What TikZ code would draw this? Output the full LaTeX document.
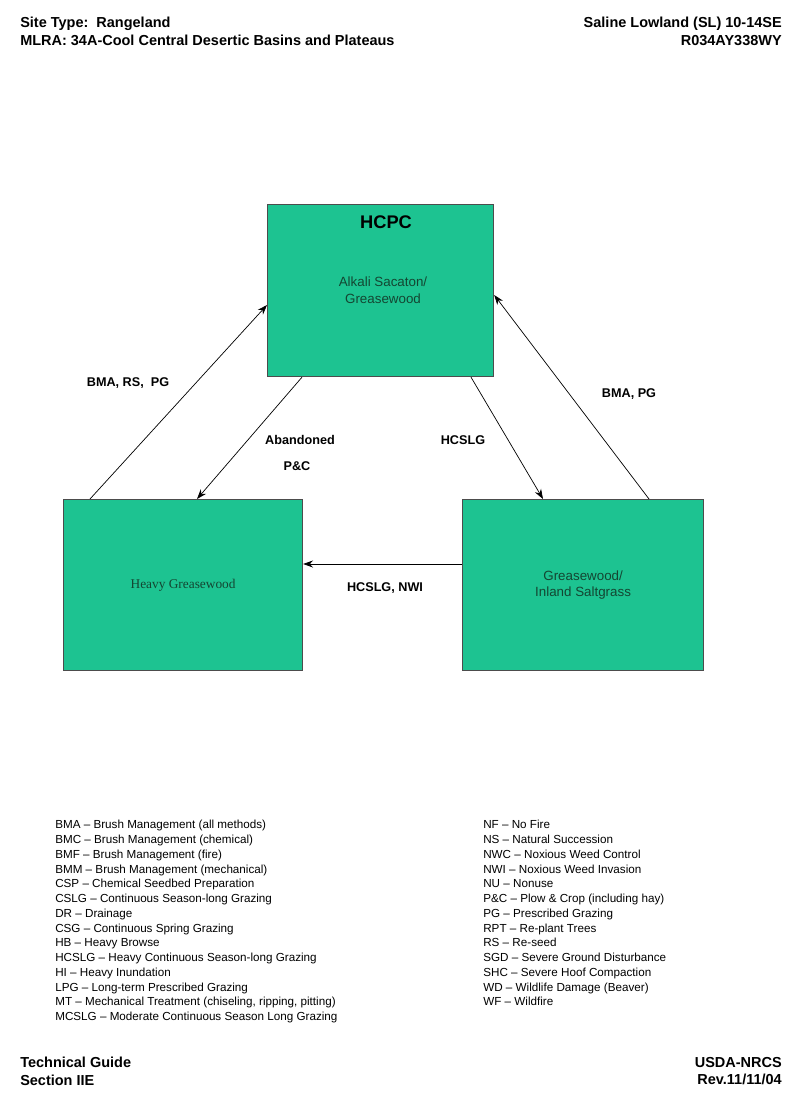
\documentclass[tikz,border=0pt]{standalone}
\usepackage{fontspec}
\setmainfont{Liberation Sans}
\newfontfamily\timesfont{Liberation Serif}
\usetikzlibrary{arrows.meta, positioning}
\definecolor{stategreen}{RGB}{29,195,145}
\definecolor{statetext}{RGB}{20,70,50}

\begin{document}
\begin{tikzpicture}[
    x=0.025cm, y=-0.025cm,
    state/.style={draw=black!70, fill=stategreen, line width=0.8pt, anchor=north west, inner sep=0pt},
    box text/.style={font=\fontsize{9.5}{12}\selectfont, text=statetext, align=center},
    trans/.style={-{Stealth[length=7pt,width=5pt]}, line width=0.5pt},
    tlabel/.style={font=\bfseries\fontsize{9}{11}\selectfont},
    header/.style={font=\bfseries\fontsize{10.3}{12.5}\selectfont},
    legend/.style={font=\fontsize{8.3}{10.5}\selectfont, anchor=north west, align=left, inner sep=0pt}
]
\useasboundingbox (0,0) rectangle (800,1108);

% header and footer
\node[header, anchor=north west, align=left, inner sep=0pt] (site) at (20,17) {Site Type:\ \ Rangeland\\MLRA: 34A-Cool Central Desertic Basins and Plateaus};
\node[header, anchor=north east, align=right, inner sep=0pt] (sl) at (782,17) {Saline Lowland (SL) 10-14SE\\R034AY338WY};
\node[header, anchor=north west, align=left, inner sep=0pt] (guide) at (20,1057) {Technical Guide\\Section IIE};
\node[header, anchor=north east, align=right, inner sep=0pt] (nrcs) at (782,1057) {USDA-NRCS\\Rev.11/11/04};

% states
\node[state, minimum width=5.65cm, minimum height=4.3cm] (hcpc) at (267,204) {};
\node[font=\bfseries\fontsize{13}{15}\selectfont] (hcpct) at (386,222) {HCPC};
\node[box text] (hcpcs) at (383,290) {Alkali Sacaton/\\Greasewood};
\node[state, minimum width=5.975cm, minimum height=4.275cm] (heavy) at (63,499) {};
\node[box text, font=\timesfont\fontsize{9.5}{12}\selectfont] at (heavy.center) {Heavy Greasewood};
\node[state, minimum width=6.025cm, minimum height=4.275cm] (salt) at (462,499) {};
\node[box text] at (salt.center) {Greasewood/\\Inland Saltgrass};

% transitions
\draw[trans] ([xshift=27*0.025cm]heavy.north west) -- ([yshift=-101*0.025cm]hcpc.north west);
\draw[trans] ([xshift=35*0.025cm]hcpc.south west) -- ([xshift=134*0.025cm]heavy.north west);
\draw[trans] ([xshift=204*0.025cm]hcpc.south west) -- ([xshift=81*0.025cm]salt.north west);
\draw[trans] ([xshift=187*0.025cm]salt.north west) -- ([yshift=-91*0.025cm]hcpc.north east);
\draw[trans] ([yshift=-65*0.025cm]salt.north west) -- ([yshift=-65*0.025cm]heavy.north east);

\node[tlabel] (l1) at (128,383) {BMA, RS,\ \ PG};
\node[tlabel] (l2) at (300,440) {Abandoned};
\node[tlabel] (l3) at (297,466) {P\&C};
\node[tlabel] (l4) at (463,440) {HCSLG};
\node[tlabel] (l5) at (629,394) {BMA, PG};
\node[tlabel] (l6) at (385,588) {HCSLG, NWI};

% legend
\node[legend] (legl) at (55,820) {BMA -- Brush Management (all methods)\\
BMC -- Brush Management (chemical)\\
BMF -- Brush Management (fire)\\
BMM -- Brush Management (mechanical)\\
CSP -- Chemical Seedbed Preparation\\
CSLG -- Continuous Season-long Grazing\\
DR -- Drainage\\
CSG -- Continuous Spring Grazing\\
HB -- Heavy Browse\\
HCSLG -- Heavy Continuous Season-long Grazing\\
HI -- Heavy Inundation\\
LPG -- Long-term Prescribed Grazing\\
MT -- Mechanical Treatment (chiseling, ripping, pitting)\\
MCSLG -- Moderate Continuous Season Long Grazing};
\node[legend] (legr) at (483,820) {NF -- No Fire\\
NS -- Natural Succession\\
NWC -- Noxious Weed Control\\
NWI -- Noxious Weed Invasion\\
NU -- Nonuse\\
P\&C -- Plow \& Crop (including hay)\\
PG -- Prescribed Grazing\\
RPT -- Re-plant Trees\\
RS -- Re-seed\\
SGD -- Severe Ground Disturbance\\
SHC -- Severe Hoof Compaction\\
WD -- Wildlife Damage (Beaver)\\
WF -- Wildfire};
\end{tikzpicture}
\end{document}
